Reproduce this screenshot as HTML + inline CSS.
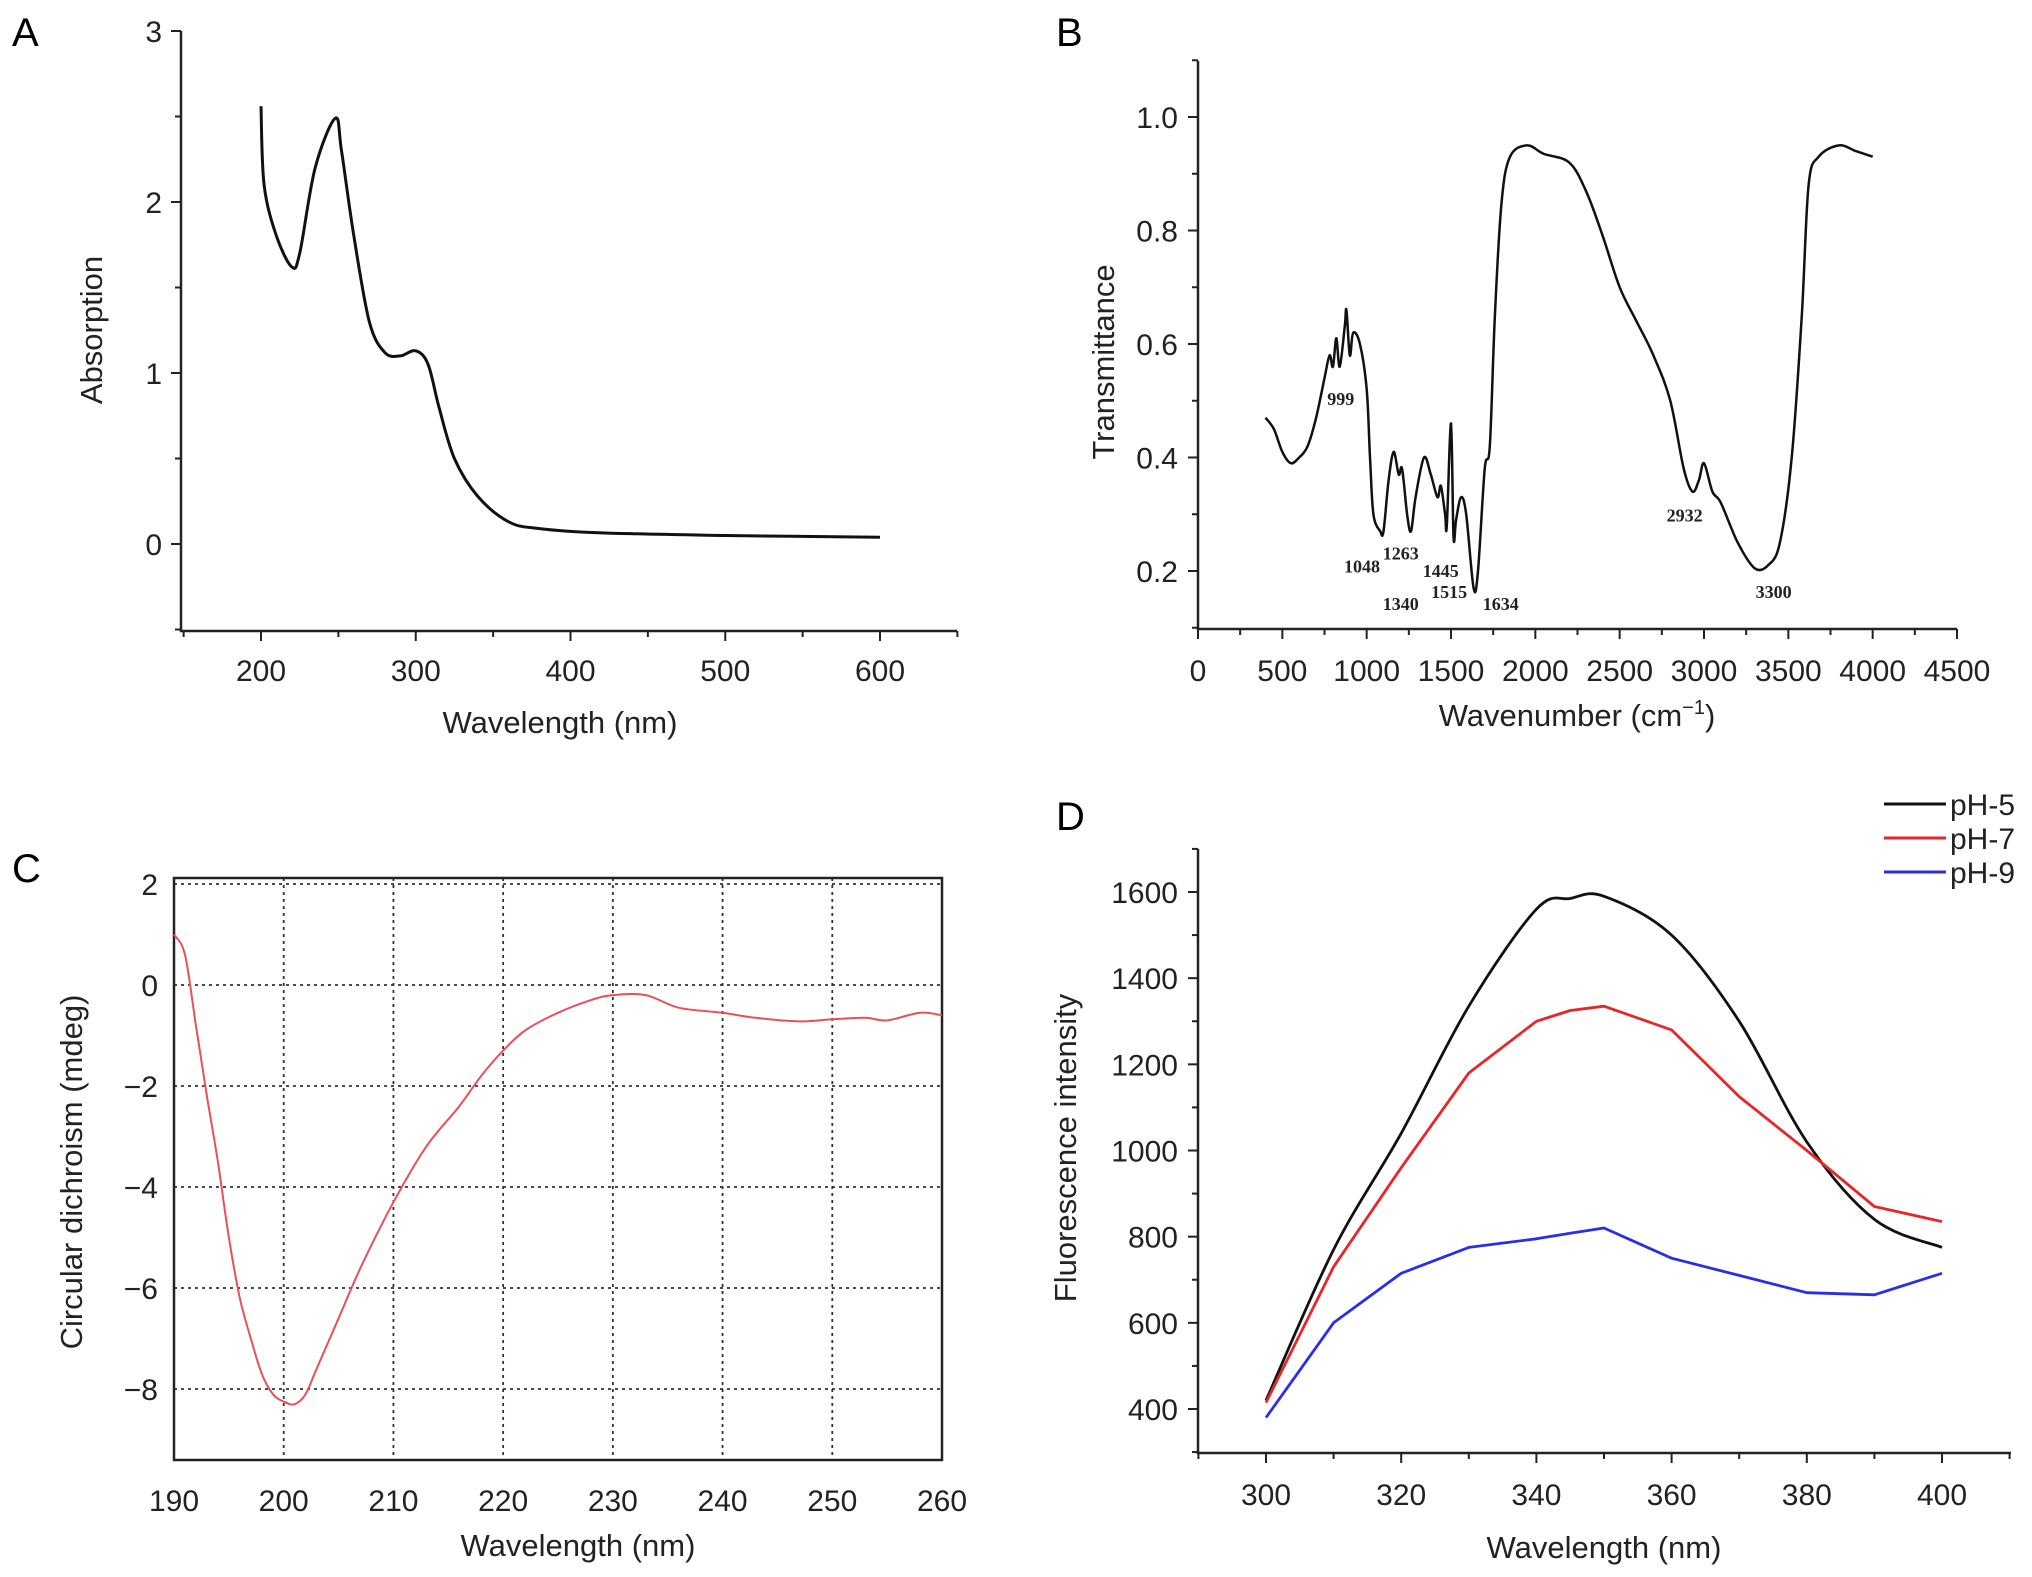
<!DOCTYPE html>
<html><head><meta charset="utf-8">
<style>
html,body{margin:0;padding:0;background:#fff;}
svg{display:block;font-family:"Liberation Sans",Arial,sans-serif;}
</style></head>
<body>
<svg id="fig" width="2032" height="1577" viewBox="0 0 2032 1577" xmlns="http://www.w3.org/2000/svg">
<text x="12" y="46" font-size="40">A</text>
<text x="1056" y="46" font-size="40">B</text>
<text x="12" y="882" font-size="40">C</text>
<text x="1056" y="830" font-size="40">D</text>
</svg>
<script>
// Panel A data
const aX=[200,202,210,220,225,235,248,252,260,270,280,290,300,308,315,325,340,360,380,420,500,600];
const aY=[2.56,2.1,1.8,1.62,1.7,2.2,2.49,2.3,1.8,1.3,1.12,1.1,1.13,1.05,0.8,0.5,0.28,0.13,0.09,0.065,0.05,0.04];
const aXTicks=[200,300,400,500,600];
const aYTicks=[0,1,2,3];
// Panel B data
const bX=[400,450,500,550,600,650,700,750,780,800,820,840,870,880,900,920,960,1000,1020,1040,1080,1100,1130,1160,1190,1210,1240,1263,1290,1340,1380,1420,1440,1465,1475,1500,1515,1530,1560,1590,1634,1660,1700,1730,1760,1800,1850,1950,2050,2200,2300,2400,2500,2600,2700,2800,2880,2932,2970,3000,3050,3100,3200,3300,3380,3450,3520,3580,3620,3680,3800,3900,4000];
const bY=[0.47,0.45,0.41,0.39,0.40,0.42,0.47,0.54,0.58,0.56,0.61,0.56,0.63,0.66,0.58,0.62,0.60,0.52,0.40,0.30,0.27,0.27,0.36,0.41,0.37,0.38,0.30,0.27,0.33,0.40,0.37,0.33,0.35,0.30,0.28,0.46,0.26,0.29,0.33,0.30,0.17,0.20,0.38,0.42,0.65,0.85,0.93,0.95,0.935,0.92,0.87,0.79,0.70,0.64,0.58,0.50,0.38,0.34,0.36,0.39,0.34,0.32,0.25,0.205,0.21,0.25,0.40,0.65,0.88,0.93,0.95,0.94,0.93];
const bXTicks=[0,500,1000,1500,2000,2500,3000,3500,4000,4500];
const bYTicks=[0.2,0.4,0.6,0.8,1.0];
const bAnnText=["999","1048","1263","1340","1445","1515","1634","2932","3300"];
const bAnnX=[846,972,1202,1202,1439,1489,1795,2885,3413];
const bAnnY=[0.505,0.21,0.233,0.144,0.202,0.165,0.144,0.30,0.165];
// Panel C data
const cX=[190,191,192,193,194,195,196,197,198,199,200,201,202,203,205,207,210,213,216,218,220,222,225,228,230,233,236,240,243,247,250,253,255,258,260];
const cY=[1.0,0.6,-0.8,-2.2,-3.5,-5,-6.2,-7,-7.7,-8.1,-8.25,-8.3,-8.1,-7.6,-6.6,-5.6,-4.3,-3.2,-2.4,-1.8,-1.3,-0.9,-0.55,-0.3,-0.2,-0.2,-0.45,-0.55,-0.65,-0.72,-0.68,-0.65,-0.7,-0.55,-0.6];
const cXTicks=[190,200,210,220,230,240,250,260];
const cYTicks=[2,0,-2,-4,-6,-8];
// Panel D data
const dX=[300,310,320,330,340,345,350,360,370,380,390,400];
const dPH5=[420,770,1040,1335,1560,1585,1590,1500,1300,1020,840,775];
const dPH7=[415,730,960,1180,1300,1325,1335,1280,1125,1000,870,835];
const dPH9=[380,600,715,775,795,808,820,750,710,670,665,715];
const dXTicks=[300,320,340,360,380,400];
const dYTicks=[400,600,800,1000,1200,1400,1600];
const dLegend=["pH-5","pH-7","pH-9"];

const NS="http://www.w3.org/2000/svg";
const svg=document.getElementById('fig');
function mk(tag,attrs,parent,txt){const e=document.createElementNS(NS,tag);for(const k in attrs)e.setAttribute(k,attrs[k]);if(txt!==undefined)e.textContent=txt;(parent||svg).appendChild(e);return e;}
function lin(d0,d1,p0,p1){return v=>p0+(v-d0)/(d1-d0)*(p1-p0);}
function path(xs,ys,sx,sy){return xs.map((x,i)=>(i?'L':'M')+sx(x).toFixed(1)+','+sy(ys[i]).toFixed(1)).join('');}
function smooth(xs,ys,sx,sy){const p=xs.map((x,i)=>[sx(x),sy(ys[i])]);let d='M'+p[0][0].toFixed(1)+','+p[0][1].toFixed(1);
for(let i=0;i<p.length-1;i++){const p0=p[Math.max(0,i-1)],p1=p[i],p2=p[i+1],p3=p[Math.min(p.length-1,i+2)];
const c1=[p1[0]+(p2[0]-p0[0])/6,p1[1]+(p2[1]-p0[1])/6],c2=[p2[0]-(p3[0]-p1[0])/6,p2[1]-(p3[1]-p1[1])/6];
d+='C'+c1.map(v=>v.toFixed(1)).join(',')+' '+c2.map(v=>v.toFixed(1)).join(',')+' '+p2[0].toFixed(1)+','+p2[1].toFixed(1);}return d;}

// ---- Panel A
{const g=mk('g',{});
const sx=lin(200,600,261,880), sy=lin(0,3,544,31);
const ax=mk('path',{d:'M181,31 L181,631 L957,631',fill:'none',stroke:'#222','stroke-width':2.5},g);
for(let v=150;v<=650;v+=50){mk('line',{x1:sx(v),x2:sx(v),y1:631,y2:v%100==0?641:637,stroke:'#222','stroke-width':2},g);}
for(let v=-0.5;v<=3;v+=0.5){mk('line',{x1:181,x2:v%1==0?171:175,y1:sy(v),y2:sy(v),stroke:'#222','stroke-width':2},g);}
aXTicks.forEach(v=>{const t=mk('text',{x:sx(v),y:681,'font-size':30,'text-anchor':'middle',fill:'#222'},g,v);});
aYTicks.forEach(v=>{const t=mk('text',{x:162,y:sy(v)+11,'font-size':30,'text-anchor':'end',fill:'#222'},g,v);});
const xt=mk('text',{x:560,y:733,'font-size':31,'text-anchor':'middle',fill:'#222'},g,'Wavelength (nm)');
const yt=mk('text',{x:0,y:0,'font-size':31,'text-anchor':'middle',fill:'#222',transform:'translate(102,330) rotate(-90)'},g,'Absorption');
const l=mk('path',{d:smooth(aX,aY,sx,sy),fill:'none',stroke:'#111','stroke-width':3,'stroke-linejoin':'round'},g);}

// ---- Panel B
{const g=mk('g',{});
const sx=lin(0,4500,1198,1957), sy=lin(0.2,1.0,571,117);
const ax=mk('path',{d:'M1198,61 L1198,629 L1957,629',fill:'none',stroke:'#222','stroke-width':2.5},g);
for(let v=0;v<=4500;v+=250){mk('line',{x1:sx(v),x2:sx(v),y1:629,y2:v%500==0?639:635,stroke:'#222','stroke-width':2},g);}
for(let v=0.1;v<=1.101;v+=0.1){mk('line',{x1:1198,x2:Math.round(v*10)%2==0?1188:1192,y1:sy(v),y2:sy(v),stroke:'#222','stroke-width':2},g);}
bXTicks.forEach(v=>{const t=mk('text',{x:sx(v),y:681,'font-size':30,'text-anchor':'middle',fill:'#222'},g,v);});
bYTicks.forEach(v=>{const t=mk('text',{x:1178,y:sy(v)+11,'font-size':30,'text-anchor':'end',fill:'#222'},g,v.toFixed(1));});
const xt=mk('text',{x:1577,y:726,'font-size':31,'text-anchor':'middle',fill:'#222'},g);
xt.innerHTML='Wavenumber (cm<tspan dy="-12" font-size="20">−1</tspan><tspan dy="12">)</tspan>';
const yt=mk('text',{x:0,y:0,'font-size':31,'text-anchor':'middle',fill:'#222',transform:'translate(1114,362) rotate(-90)'},g,'Transmittance');
const l=mk('path',{d:smooth(bX,bY,sx,sy),fill:'none',stroke:'#111','stroke-width':2.5,'stroke-linejoin':'round'},g);
bAnnText.forEach((s,i)=>{const t=mk('text',{x:sx(bAnnX[i]),y:sy(bAnnY[i])+7,'font-size':18,'font-weight':'bold','font-family':'Liberation Serif, serif','text-anchor':'middle',fill:'#222'},g,s);});}

// ---- Panel C
{const g=mk('g',{});
const sx=lin(190,260,174,942), sy=lin(2,-8,884,1389);
cXTicks.slice(1,-1).forEach(v=>{mk('line',{x1:sx(v),x2:sx(v),y1:878,y2:1460,stroke:'#333','stroke-width':1.8,'stroke-dasharray':'3,4'},g);});
cYTicks.forEach(v=>{mk('line',{x1:174,x2:942,y1:sy(v),y2:sy(v),stroke:'#333','stroke-width':1.8,'stroke-dasharray':'3,4'},g);});
const bx=mk('rect',{x:174,y:878,width:768,height:582,fill:'none',stroke:'#222','stroke-width':2.5},g);
cXTicks.forEach(v=>{const t=mk('text',{x:sx(v),y:1511,'font-size':30,'text-anchor':'middle',fill:'#222'},g,v);});
cYTicks.forEach(v=>{const t=mk('text',{x:158,y:sy(v)+11,'font-size':30,'text-anchor':'end',fill:'#222'},g,v<0?'−'+(-v):v);});
const xt=mk('text',{x:578,y:1556,'font-size':31,'text-anchor':'middle',fill:'#222'},g,'Wavelength (nm)');
const yt=mk('text',{x:0,y:0,'font-size':31,'text-anchor':'middle',fill:'#222',transform:'translate(82,1172) rotate(-90)'},g,'Circular dichroism (mdeg)');
const l=mk('path',{d:smooth(cX,cY,sx,sy),fill:'none',stroke:'#e8505a','stroke-width':2,'stroke-linejoin':'round'},g);}

// ---- Panel D
{const g=mk('g',{});
const sx=lin(300,400,1266,1942), sy=lin(400,1600,1409,892);
const ax=mk('path',{d:'M1198,849 L1198,1453 L2011,1453',fill:'none',stroke:'#222','stroke-width':2.5},g);
for(let v=290;v<=410;v+=10){mk('line',{x1:sx(v),x2:sx(v),y1:1453,y2:v%20==0?1463:1459,stroke:'#222','stroke-width':2},g);}
for(let v=300;v<=1700;v+=100){mk('line',{x1:1198,x2:v%200==0?1188:1192,y1:sy(v),y2:sy(v),stroke:'#222','stroke-width':2},g);}
dXTicks.forEach(v=>{const t=mk('text',{x:sx(v),y:1505,'font-size':30,'text-anchor':'middle',fill:'#222'},g,v);});
dYTicks.forEach(v=>{const t=mk('text',{x:1178,y:sy(v)+11,'font-size':30,'text-anchor':'end',fill:'#222'},g,v);});
const xt=mk('text',{x:1604,y:1558,'font-size':31,'text-anchor':'middle',fill:'#222'},g,'Wavelength (nm)');
const yt=mk('text',{x:0,y:0,'font-size':31,'text-anchor':'middle',fill:'#222',transform:'translate(1076,1148) rotate(-90)'},g,'Fluorescence intensity');
const series=[dPH5,dPH7,dPH9], cols=['#111','#e8262a','#2a2ee8'];
series.forEach((s,i)=>{const l=mk('path',{d:(i==0?smooth:path)(dX,s,sx,sy),fill:'none',stroke:cols[i],'stroke-width':2.8,'stroke-linejoin':'round'},g);
const ly=804+i*34;const ll=mk('line',{x1:1884,x2:1946,y1:ly,y2:ly,stroke:cols[i],'stroke-width':3},g);
const lt=mk('text',{x:1950,y:ly+11,'font-size':30,fill:'#222'},g,dLegend[i]);});}
</script>
</body></html>
